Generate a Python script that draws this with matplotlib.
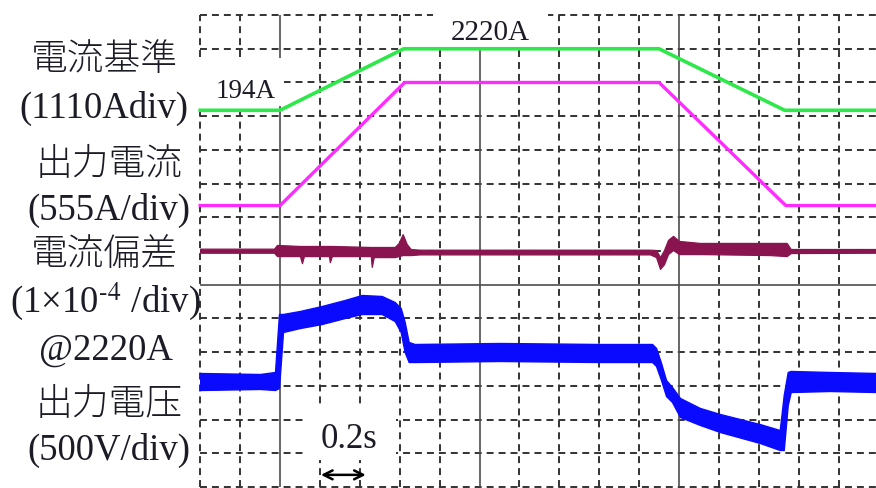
import matplotlib
matplotlib.use("Agg")
import matplotlib.pyplot as plt
from matplotlib.patches import Rectangle

# ---- channel settings -------------------------------------------------------
T_DIV = 0.2            # s/div
REF_SCALE = 1110.0     # A/div   current reference
OUT_SCALE = 555.0      # A/div   output current
DEV_SCALE = 1.0        # 1e-4/div current deviation
VOLT_SCALE = 500.0     # V/div   output voltage

# zero levels of each channel (divisions counted from the bottom line)
REF_ZERO = 11
OUT_ZERO = 8
DEV_ZERO = 7
VOLT_ZERO = 0

# ---- traces -----------------------------------------------------------------
# current reference (A)
ref_t = [-0.40, 0.00, 0.62, 1.90, 2.53, 2.99]
ref_a = [194, 194, 2220, 2220, 194, 194]

# output current (A)
out_t = [-0.40, 0.00, 0.625, 1.90, 2.535, 2.99]
out_a = [194, 194, 2220, 2220, 194, 194]

# current deviation envelope (x1e-4 @2220A)
dev_t = [-0.40, -0.03, -0.015, 0.10, 0.11, 0.12, 0.245, 0.25, 0.26, 0.455,
         0.46, 0.47, 0.575, 0.595, 0.615, 0.635, 0.655, 0.70, 1.855, 1.885,
         1.905, 1.925, 1.945, 1.97, 2.00, 2.105, 2.455, 2.54, 2.56, 2.99]
dev_hi = [0.07, 0.07, 0.18, 0.15, 0.15, 0.15, 0.15, 0.15, 0.15, 0.12,
          0.12, 0.12, 0.12, 0.24, 0.50, 0.21, 0.06, 0.04, 0.04, 0.03,
          -0.18, 0.03, 0.33, 0.45, 0.30, 0.24, 0.24, 0.24, 0.06, 0.06]
dev_lo = [-0.05, -0.05, -0.15, -0.15, -0.36, -0.15, -0.15, -0.33, -0.15, -0.15,
          -0.47, -0.18, -0.18, -0.15, -0.12, -0.12, -0.12, -0.10, -0.10, -0.18,
          -0.53, -0.39, -0.09, 0.03, -0.09, -0.09, -0.12, -0.15, -0.06, -0.05]

# output voltage envelope (V)
volt_t = [-0.40, -0.10, -0.025, -0.005, 0.015, 0.10, 0.21, 0.325, 0.41, 0.51,
          0.575, 0.605, 0.625, 0.645, 0.675, 1.10, 1.605, 1.865, 1.885, 1.91,
          1.935, 1.965, 2.005, 2.105, 2.205, 2.405, 2.505, 2.525, 2.545, 2.56,
          2.755, 2.99]
volt_hi = [1691, 1676, 1706, 2566, 2566, 2611, 2685, 2774, 2848, 2833,
           2744, 2655, 2447, 2151, 2121, 2136, 2121, 2121, 2062, 1839,
           1587, 1483, 1320, 1172, 1083, 934, 845, 1365, 1706, 1721,
           1706, 1691]
volt_lo = [1439, 1454, 1439, 1468, 2299, 2358, 2418, 2507, 2566, 2566,
           2462, 2299, 2002, 1854, 1854, 1869, 1854, 1854, 1795, 1587,
           1350, 1261, 1038, 920, 816, 653, 549, 549, 1216, 1409,
           1424, 1409]

# ---- labels -----------------------------------------------------------------
side_labels = ["電流基準", "(1110Adiv)", "出力電流", "(555A/div)", "電流偏差",
               "(1×10$^{\\mathrm{‑}4}$ /div)", "@2220A", "出力電压", "(500V/div)"]
ref_low_label = "194A"
ref_high_label = "2220A"
time_label = "0.2s"

# ---- figure -----------------------------------------------------------------
plt.rcParams["mathtext.fontset"] = "stix"
plt.rcParams["lines.scale_dashes"] = False
FONT = ["Liberation Serif", "Noto Sans CJK JP", "DejaVu Sans"]
TXT = "#1c1c26"

W, H = 876, 488
fig = plt.figure(figsize=(W / 100, H / 100), dpi=100)
ax = fig.add_axes([0, 0, 1, 1])
ax.set_axis_off()

# screen: 14 vertical divisions, 17 horizontal divisions
PX_X0, PX_DIV_X = 280.0, 39.9
PX_Y0, PX_DIV_Y = 487.0, 33.71
ax.set_xlim((0 - PX_X0) / PX_DIV_X * T_DIV, (W - PX_X0) / PX_DIV_X * T_DIV)
ax.set_ylim((PX_Y0 - H) / PX_DIV_Y, PX_Y0 / PX_DIV_Y)

t_left = -0.4
t_right = ax.get_xlim()[1]
n_rows = 14
dash = (0, (5.0, 3.6))
grid_kw = dict(color="#333333", lw=1.4, zorder=1)
solid_kw = dict(color="#4d4d4d", lw=1.2, zorder=1)

for i in range(n_rows + 1):
    if i == 6:
        ax.hlines(i, t_left, t_right, linestyles="solid", **solid_kw)
    else:
        ax.hlines(i, t_left, t_right, linestyles=[dash], **grid_kw)

k = 0
while t_left + k * T_DIV < t_right:
    tv = round(t_left + k * T_DIV, 3)
    if abs(tv - round(tv)) < 1e-6:
        ax.vlines(tv, 0, n_rows, linestyles="solid", **solid_kw)
    else:
        ax.vlines(tv, 0, n_rows, linestyles=[dash], **grid_kw)
    k += 1

# white backing behind annotations
for (x0, x1, y0, y1) in [(0.767, 1.344, 13.06, 14.6),
                         (-0.41, 0.02, 11.30, 12.73),
                         (0.12, 0.581, 0.80, 2.37)]:
    ax.add_patch(Rectangle((x0, y0), x1 - x0, y1 - y0, facecolor="white",
                           edgecolor="none", zorder=2))

# traces
ax.plot(ref_t, [REF_ZERO + a / REF_SCALE for a in ref_a], color="#2ee84a",
        lw=2.6, solid_joinstyle="round", zorder=4)
ax.plot(out_t, [OUT_ZERO + a / OUT_SCALE for a in out_a], color="#ff2cff",
        lw=2.4, solid_joinstyle="round", zorder=4)
ax.fill_between(dev_t, [DEV_ZERO + v / DEV_SCALE for v in dev_hi],
                [DEV_ZERO + v / DEV_SCALE for v in dev_lo],
                facecolor="#8a1450", edgecolor="#8a1450", lw=0.9, zorder=4)
ax.fill_between(volt_t, [VOLT_ZERO + v / VOLT_SCALE for v in volt_hi],
                [VOLT_ZERO + v / VOLT_SCALE for v in volt_lo],
                facecolor="#0a0aff", edgecolor="#0a0aff", lw=1.0, zorder=4)


def fpos(x, y):
    return x / W, 1 - y / H


# side captions
side_pos = [(104, 70), (104, 118), (109, 175), (109, 220), (104, 265),
            (105, 312), (106, 360), (109, 415), (109, 460)]
for text, (x, y) in zip(side_labels, side_pos):
    fig.text(*fpos(x, y), text, ha="center", va="baseline", fontsize=26.5,
             family=FONT, weight="light", color=TXT, zorder=5)

fig.text(*fpos(246, 98), ref_low_label, ha="center", va="baseline",
         fontsize=19.5, family=FONT, color=TXT, zorder=5)
fig.text(*fpos(490, 40), ref_high_label, ha="center", va="baseline",
         fontsize=21, family=FONT, color=TXT, zorder=5)
fig.text(*fpos(349, 448), time_label, ha="center", va="baseline",
         fontsize=25, family=FONT, color=TXT, zorder=5)

ax.annotate("", xy=(0.43, 0.36), xytext=(0.205, 0.36),
            arrowprops=dict(arrowstyle="<->", lw=1.8, color="black",
                            shrinkA=0, shrinkB=0, mutation_scale=16),
            zorder=5)

fig.savefig("out.png", dpi=100, facecolor="white")
